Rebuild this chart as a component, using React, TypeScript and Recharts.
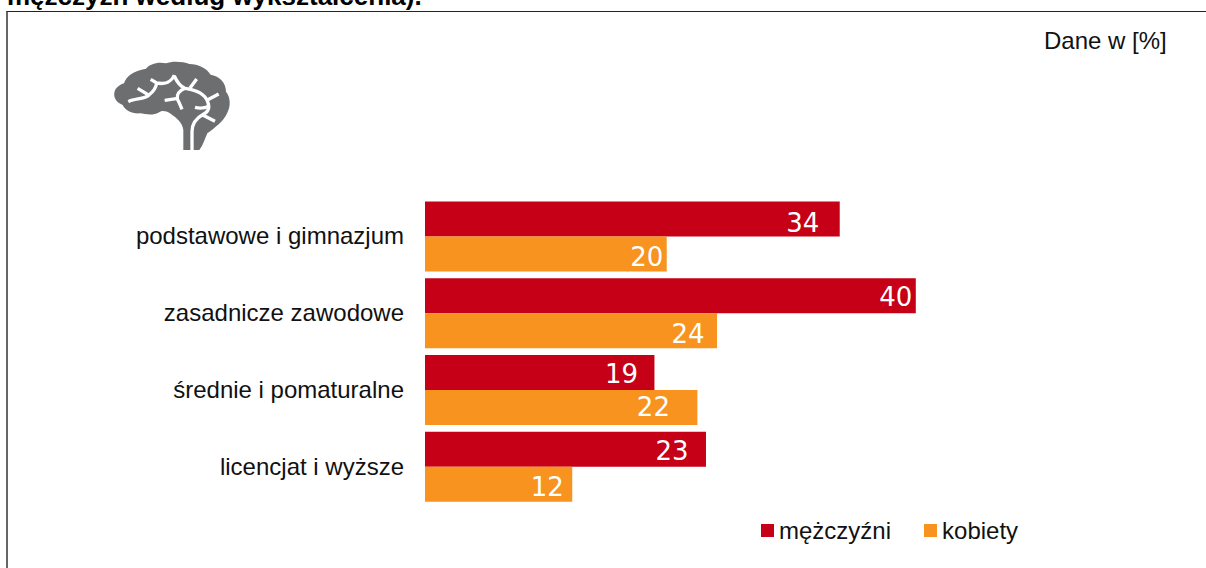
import { Bar, BarChart, LabelList, Legend, XAxis, YAxis } from "recharts";

const categories = [
  "podstawowe i gimnazjum",
  "zasadnicze zawodowe",
  "średnie i pomaturalne",
  "licencjat i wyższe",
];
const men = [33.8, 40, 18.7, 22.9];
const women = [19.7, 23.8, 22.2, 12];

// the data labels sit by hand in the source, not at a fixed distance from the bar end
const menLabelShift = [-37, -20, -33, -34];
const womenLabelShift = [-20, -29, -44, -25];
const menLabelLift = [1, -1, -1, -1];
const womenLabelLift = [0, 1, -3, 0];

const RED = "#c50017";
const ORANGE = "#f7931e";
const ARIAL = '"Liberation Sans", Arial, sans-serif';

const chartData = categories.map((name, i) => ({
  name,
  men: men[i],
  women: women[i],
}));

const makeLabel = (shifts: number[], lifts: number[]) => (props: any) => {
  const { x, y, width, height, value, index } = props;
  return (
    <text
      x={x + width + shifts[index]}
      y={y + height / 2 + 2.5 + lifts[index]}
      fill="#ffffff"
      fontFamily='"DejaVu Sans", sans-serif'
      fontSize={26}
      textAnchor="middle"
      dominantBaseline="central"
    >
      {Math.round(value)}
    </text>
  );
};

const LegendContent = ({ payload }: any) => (
  <div style={{ display: "flex", fontFamily: ARIAL, fontSize: 24, color: "#111" }}>
    {(payload || []).map((item: any, i: number) => (
      <div key={item.value} style={{ display: "flex", alignItems: "center", marginRight: i === 0 ? 33 : 0 }}>
        <span style={{ width: 13, height: 13, background: item.color, marginRight: 5, marginTop: -1 }} />
        {item.value}
      </div>
    ))}
  </div>
);

const BrainIcon = () => (
  <svg
    viewBox="0 0 480 330"
    width={160}
    height={110}
    style={{ position: "absolute", left: 90, top: 50 }}
  >
    <path
      fill="#6d6e70"
      d="M280 300 L280 240 C278 220 262 205 240 190 C228 182 215 180 205 188 C190 197 165 192 150 190 C125 192 105 180 98 165 C82 158 70 145 73 128 C76 112 90 104 102 100 C108 80 130 62 168 56 C178 42 205 34 228 40 C245 32 280 34 298 42 C325 42 350 55 362 74 C385 78 408 95 408 125 C420 140 424 165 412 188 C400 215 375 232 352 250 C345 265 340 285 328 300 Z"
    />
    <g fill="none" stroke="#ffffff" strokeWidth={10} strokeLinecap="butt">
      <path d="M115 155 C135 145 165 148 177 135 C192 124 198 112 200 100" />
      <path d="M143 115 L174 134" />
      <path d="M182 88 L200 99 C225 104 245 95 253 75" />
      <path d="M253 78 C262 98 272 110 285 115 C320 120 345 132 353 155 C362 178 350 188 340 193 C318 205 306 222 306 245 L306 302" />
      <path d="M285 115 C268 122 260 132 262 147 C268 158 272 168 276 178" />
      <path d="M224 151 L264 145" />
      <path d="M300 114 L320 87" />
      <path d="M352 150 L386 132" />
      <path d="M315 172 C330 176 345 174 358 168" />
      <path d="M338 195 L375 214" />
    </g>
  </svg>
);

export default function App() {
  return (
    <div style={{ position: "fixed", left: 0, top: 0, width: 1206, height: 568, overflow: "hidden", background: "#fff" }}>
      <div
        style={{
          position: "absolute",
          left: 7,
          top: -19,
          fontFamily: ARIAL,
          fontWeight: "bold",
          fontSize: 26,
          lineHeight: "30px",
          whiteSpace: "nowrap",
          color: "#000",
        }}
      >
        mężczyzn według wykształcenia).
      </div>
      <div
        style={{
          position: "absolute",
          left: 6,
          top: 11,
          width: 1200,
          height: 557,
          boxSizing: "border-box",
          borderTop: "1px solid #222",
          borderLeft: "2px solid #666",
        }}
      />
      <div
        style={{
          position: "absolute",
          left: 1044,
          top: 28,
          fontFamily: ARIAL,
          fontSize: 24,
          lineHeight: "26px",
          whiteSpace: "nowrap",
          color: "#111",
        }}
      >
        Dane w [%]
      </div>
      <BrainIcon />
      <div style={{ position: "absolute", left: 0, top: 0 }}>
        <BarChart
          width={1206}
          height={568}
          data={chartData}
          layout="vertical"
          barSize={35}
          barGap={0}
          barCategoryGap={3.35}
          margin={{ top: 198.6, right: 167.5, bottom: 62.6, left: 200 }}
        >
          <XAxis type="number" domain={[0, 50]} hide />
          <YAxis
            type="category"
            dataKey="name"
            width={225}
            axisLine={false}
            tickLine={false}
            tickSize={0}
            tickMargin={21}
            interval={0}
            dy={-1}
            tick={{ fontFamily: ARIAL, fontSize: 24, fill: "#111" }}
          />
          <Legend
            layout="horizontal"
            align="center"
            verticalAlign="middle"
            itemSorter={null}
            content={<LegendContent />}
            wrapperStyle={{ left: 761, top: 517, width: "auto", height: 30 }}
          />
          <Bar dataKey="men" name="mężczyźni" fill={RED} isAnimationActive={false}>
            <LabelList dataKey="men" content={makeLabel(menLabelShift, menLabelLift)} />
          </Bar>
          <Bar dataKey="women" name="kobiety" fill={ORANGE} isAnimationActive={false}>
            <LabelList dataKey="women" content={makeLabel(womenLabelShift, womenLabelLift)} />
          </Bar>
        </BarChart>
      </div>
    </div>
  );
}
